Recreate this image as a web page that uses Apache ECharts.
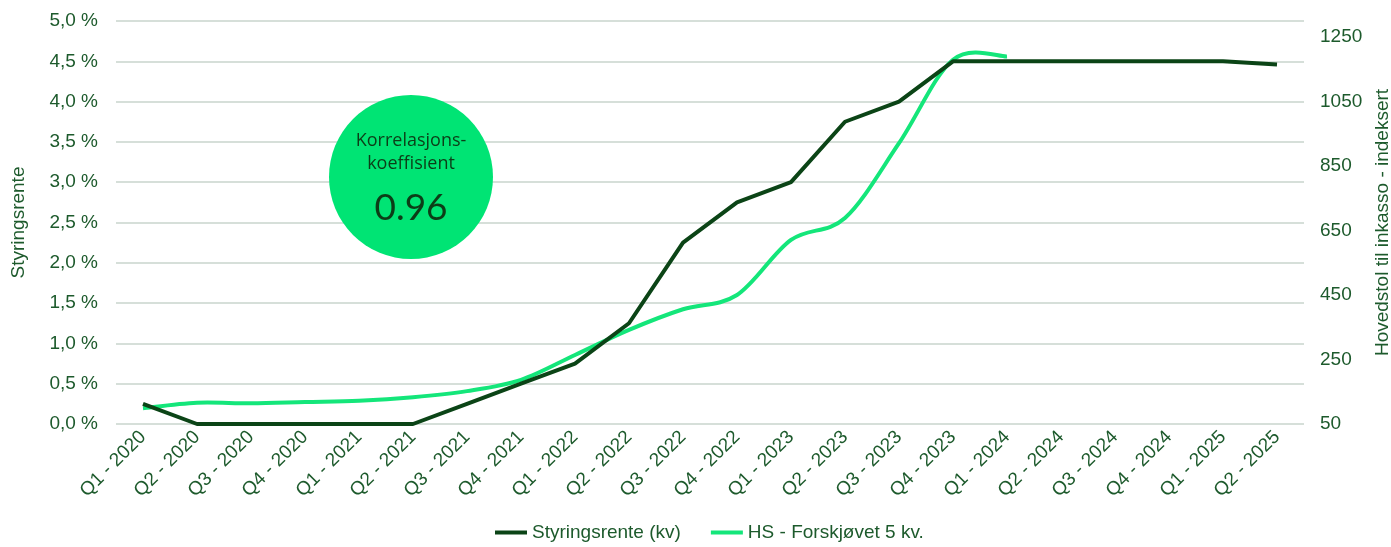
<!DOCTYPE html>
<html>
<head>
<meta charset="utf-8">
<script src="https://cdn.jsdelivr.net/npm/echarts@6/dist/echarts.min.js"></script>
<style>
  html, body { margin: 0; padding: 0; background: #ffffff; }
  #chart { width: 1391px; height: 547px; }
</style>
</head>
<body>
<div id="chart"></div>
<script>
// Quarters on the x axis
const quarters = [
  'Q1 - 2020', 'Q2 - 2020', 'Q3 - 2020', 'Q4 - 2020',
  'Q1 - 2021', 'Q2 - 2021', 'Q3 - 2021', 'Q4 - 2021',
  'Q1 - 2022', 'Q2 - 2022', 'Q3 - 2022', 'Q4 - 2022',
  'Q1 - 2023', 'Q2 - 2023', 'Q3 - 2023', 'Q4 - 2023',
  'Q1 - 2024', 'Q2 - 2024', 'Q3 - 2024', 'Q4 - 2024',
  'Q1 - 2025', 'Q2 - 2025'
];

// Policy rate, percent (left axis)
const styringsrente = [
  0.25, 0, 0, 0,
  0, 0, 0.25, 0.5,
  0.75, 1.25, 2.25, 2.75,
  3.0, 3.75, 4.0, 4.5,
  4.5, 4.5, 4.5, 4.5,
  4.5, 4.46
];

// Principal sent to collection, indexed and shifted 5 quarters (right axis)
const hsForskjovet = [
  99, 116, 114, 118,
  122, 133, 152, 187,
  264, 342, 406, 450,
  621, 689, 921, 1180,
  1190
];

// Right axis labels
const rightTicks = [50, 250, 450, 650, 850, 1050, 1250];

const korrelasjon = '0.96';

const textColor = '#1d5a2c';
const darkGreen = '#0b4416';
const brightGreen = '#14e67a';
const gridColor = '#c9d5cc';

// Cardinal (Catmull-Rom) spline through pixel points, tension 1/6
function splinePath(pts) {
  if (pts.length < 2) return '';
  let d = 'M' + pts[0][0] + ' ' + pts[0][1];
  for (let i = 0; i < pts.length - 1; i++) {
    const p0 = pts[i - 1] || pts[i];
    const p1 = pts[i];
    const p2 = pts[i + 1];
    const p3 = pts[i + 2] || pts[i + 1];
    const c1x = p1[0] + (p2[0] - p0[0]) / 6;
    const c1y = p1[1] + (p2[1] - p0[1]) / 6;
    const c2x = p2[0] - (p3[0] - p1[0]) / 6;
    const c2y = p2[1] - (p3[1] - p1[1]) / 6;
    d += ' C' + c1x + ' ' + c1y + ' ' + c2x + ' ' + c2y + ' ' + p2[0] + ' ' + p2[1];
  }
  return d;
}

const chart = echarts.init(document.getElementById('chart'));

chart.setOption({
  animation: false,
  textStyle: { fontFamily: 'Liberation Sans, Arial, sans-serif' },
  grid: { left: 116, right: 87, top: 21, bottom: 123, containLabel: false, outerBoundsMode: 'none' },
  legend: {
    bottom: 0,
    left: 490,
    itemWidth: 32,
    itemHeight: 4,
    itemGap: 30,
    icon: 'rect',
    textStyle: { color: textColor, fontSize: 19 },
    data: ['Styringsrente (kv)', 'HS - Forskjøvet 5 kv.']
  },
  xAxis: {
    type: 'category',
    data: quarters,
    boundaryGap: true,
    axisLine: { show: false },
    axisTick: { show: false },
    axisLabel: {
      color: textColor,
      fontSize: 19,
      rotate: 45,
      margin: 10,
      interval: 0
    }
  },
  yAxis: [
    {
      type: 'value',
      min: 0,
      max: 5,
      interval: 0.5,
      name: 'Styringsrente',
      nameLocation: 'middle',
      nameGap: 88,
      nameTextStyle: { color: textColor, fontSize: 19 },
      axisLine: { show: false },
      axisTick: { show: false },
      axisLabel: {
        color: textColor,
        fontSize: 19,
        margin: 18,
        formatter: v => v.toFixed(1).replace('.', ',') + ' %'
      },
      splitLine: { lineStyle: { color: gridColor, width: 1.5 } }
    },
    {
      type: 'value',
      min: 50,
      max: 1300,
      position: 'right',
      name: 'Hovedstol til inkasso - indeksert',
      nameLocation: 'middle',
      nameGap: 60,
      nameRotate: 90,
      nameTextStyle: { color: textColor, fontSize: 19 },
      axisLine: { show: false },
      axisTick: { show: false },
      splitLine: { show: false },
      axisLabel: {
        color: textColor,
        fontSize: 19,
        margin: 16,
        customValues: rightTicks,
        formatter: v => String(v)
      }
    }
  ],
  series: [
    {
      name: 'Styringsrente (kv)',
      type: 'line',
      yAxisIndex: 0,
      data: styringsrente,
      symbol: 'none',
      lineStyle: { color: darkGreen, width: 4 },
      itemStyle: { color: darkGreen },
      z: 3
    },
    {
      // smoothed curve drawn through the axis scales
      name: 'HS - Forskjøvet 5 kv.',
      type: 'custom',
      yAxisIndex: 1,
      data: hsForskjovet.map((v, i) => [i, v]),
      encode: { x: 0, y: 1 },
      itemStyle: { color: brightGreen },
      z: 2,
      renderItem: function (params, api) {
        if (params.dataIndex !== 0) return null;
        const pts = hsForskjovet.map((v, i) => api.coord([i, v]));
        return {
          type: 'path',
          shape: { pathData: splinePath(pts) },
          style: { fill: 'none', stroke: brightGreen, lineWidth: 4, lineJoin: 'round', lineCap: 'butt' }
        };
      }
    }
  ],
  graphic: [
    {
      type: 'circle',
      shape: { cx: 411, cy: 177, r: 82 },
      style: { fill: '#00e474' },
      z: 10
    },
    {
      type: 'text',
      x: 411,
      y: 152,
      style: {
        text: 'Korrelasjons-\nkoeffisient',
        fill: '#0c3d17',
        font: '18px "Open Sans", sans-serif',
        align: 'center',
        verticalAlign: 'middle',
        lineHeight: 23
      },
      z: 11
    },
    {
      type: 'text',
      x: 411,
      y: 208,
      style: {
        text: korrelasjon,
        fill: '#0c3d17',
        font: '37px Lato, "Open Sans", sans-serif',
        align: 'center',
        verticalAlign: 'middle'
      },
      z: 11
    }
  ]
});
</script>
</body>
</html>
